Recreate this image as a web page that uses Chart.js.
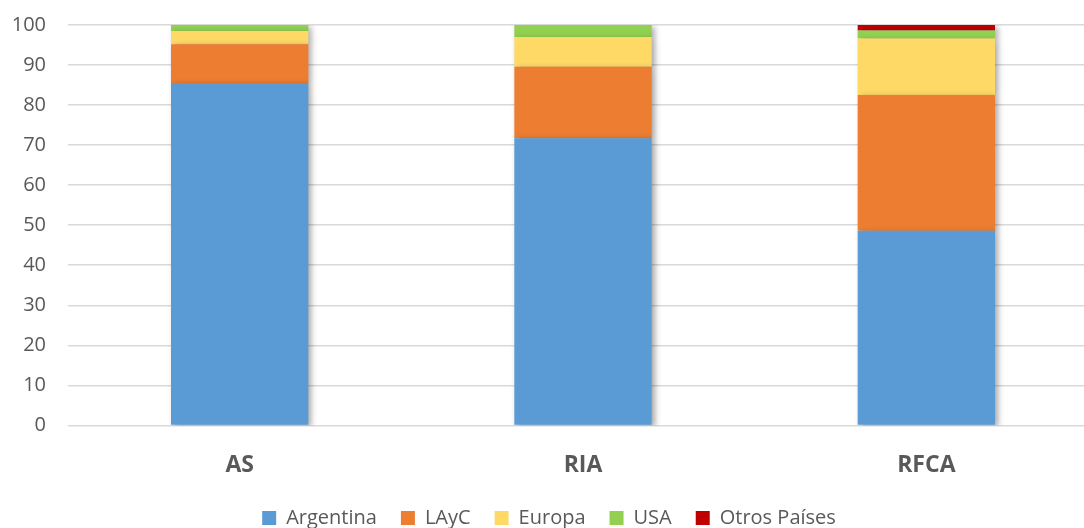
<!DOCTYPE html>
<html>
<head>
<meta charset="utf-8">
<script src="https://cdn.jsdelivr.net/npm/chart.js@4"></script>
<style>
    html, body { margin: 0; padding: 0; background: #fff; overflow: hidden; }
    #wrap { width: 1084px; height: 528px; overflow: hidden; }
</style>
</head>
<body>
<div id="wrap"><canvas id="chart" width="1098" height="538"></canvas></div>
<script>
// categories and series (percent share)
const categories = ["AS", "RIA", "RFCA"]
const argentina = [85.5, 71.7, 48.6]
const layc = [9.7, 17.9, 33.9]
const europa = [3.3, 7.4, 14.1]
const usa = [1.5, 3.0, 2.0]
const otros = [0, 0, 1.4]
const yTicks = [0, 10, 20, 30, 40, 50, 60, 70, 80, 90, 100]

const textColor = "#595959"

// soft drop shadow behind the bars, like the office chart
const barShadow = {
    id: "barShadow",
    beforeDatasetsDraw(chart) {
        const ctx = chart.ctx
        ctx.save()
        ctx.shadowColor = "rgba(0,0,0,0.35)"
        ctx.shadowBlur = 6
        ctx.shadowOffsetX = 3
        ctx.shadowOffsetY = 2
    },
    afterDatasetsDraw(chart) {
        chart.ctx.restore()
    }
}

const series = [
    { label: "Argentina", data: argentina, color: "#5B9BD5" },
    { label: "LAyC", data: layc, color: "#ED7D31" },
    { label: "Europa", data: europa, color: "#FFD966" },
    { label: "USA", data: usa, color: "#92D050" },
    { label: "Otros Países", data: otros, color: "#C00000" }
]

new Chart(document.getElementById("chart"), {
    type: "bar",
    data: {
        labels: categories,
        datasets: series.map(s => ({
            label: s.label,
            data: s.data,
            backgroundColor: s.color,
            borderWidth: 0,
            barPercentage: 0.4,
            categoryPercentage: 1
        }))
    },
    plugins: [barShadow],
    options: {
        responsive: false,
        animation: false,
        layout: { padding: { left: 0, right: 0, top: 25, bottom: 0 } },
        plugins: {
            legend: {
                position: "bottom",
                labels: {
                    color: textColor,
                    font: { family: "Open Sans", size: 20 },
                    boxWidth: 14,
                    boxHeight: 14,
                    padding: 24
                }
            },
            tooltip: { enabled: false }
        },
        scales: {
            x: {
                stacked: true,
                grid: { display: false },
                border: { display: false },
                afterFit(axis) {
                    axis.height -= 13
                },
                ticks: {
                    color: textColor,
                    font: { family: "Open Sans", size: 23, weight: "bold" },
                    padding: 18
                }
            },
            y: {
                stacked: true,
                min: 0,
                max: 100,
                afterBuildTicks(axis) {
                    axis.ticks = yTicks.map(v => ({ value: v }))
                },
                afterFit(axis) {
                    axis.width = 68
                    axis.paddingTop = 0
                    axis.paddingBottom = 0
                },
                grid: { color: "#D9D9D9", lineWidth: 1.5, drawTicks: false },
                border: { display: false },
                ticks: {
                    color: textColor,
                    font: { family: "Open Sans", size: 20 },
                    padding: 22
                }
            }
        }
    }
})
</script>
</body>
</html>
